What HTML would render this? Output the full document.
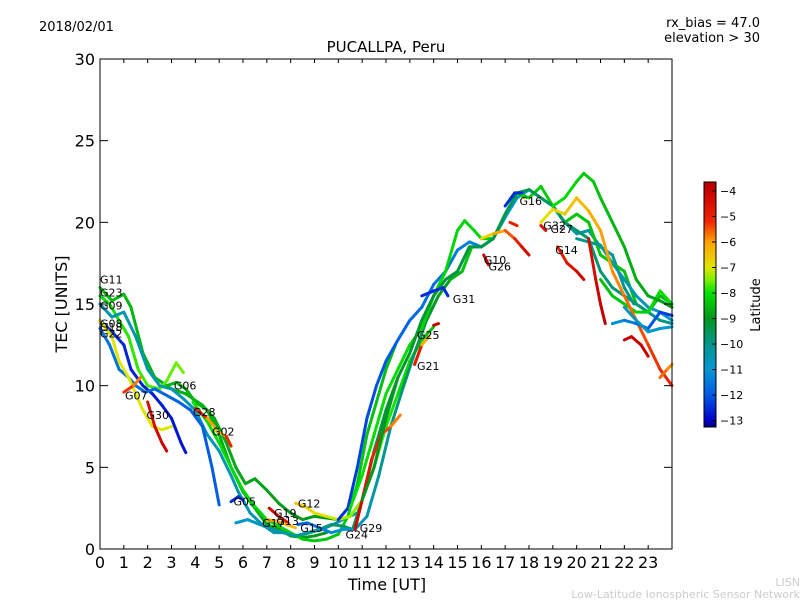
<!DOCTYPE html>
<html><head><meta charset="utf-8"><style>
body{margin:0;background:#fff;}
svg text{font-family:"DejaVu Sans","Liberation Sans",sans-serif;}
</style></head><body>
<svg id="c" width="800" height="600" xmlns="http://www.w3.org/2000/svg">
<rect width="800" height="600" fill="#fff"/>
<text x="39" y="31" font-size="13">2018/02/01</text>
<text x="760" y="27" font-size="13" text-anchor="end">rx_bias = 47.0</text>
<text x="760" y="42" font-size="13" text-anchor="end">elevation &gt; 30</text>
<text x="386" y="52" font-size="15" text-anchor="middle">PUCALLPA, Peru</text>
<g id="tracks"></g>
<g id="labels"></g>
<rect x="100" y="59" width="572" height="490" fill="none" stroke="#000" stroke-width="1"/>
<g id="axes"></g>
<text x="387" y="590" font-size="16" text-anchor="middle">Time [UT]</text>
<text transform="translate(67,304) rotate(-90)" font-size="16" text-anchor="middle">TEC [UNITS]</text>
<defs><linearGradient id="jet" x1="0" y1="1" x2="0" y2="0"></linearGradient></defs>
<rect x="704" y="182" width="12" height="245" fill="url(#jet)" stroke="#000" stroke-width="1"/>
<g id="cbar"></g>
<text transform="translate(760,305) rotate(-90)" font-size="13" text-anchor="middle">Latitude</text>
<text x="800" y="586" font-size="11" fill="#ccc" text-anchor="end">LISN</text>
<text x="800" y="598" font-size="11" fill="#ccc" text-anchor="end">Low-Latitude Ionospheric Sensor Network</text>
</svg>
<script>
const xTicks=[0,1,2,3,4,5,6,7,8,9,10,11,12,13,14,15,16,17,18,19,20,21,22,23];
const yTicks=[0,5,10,15,20,25,30];
const cbTicks=[-4,-5,-6,-7,-8,-9,-10,-11,-12,-13];
const trackNames=["G11","G23","G09","G08","G22","G30a","G07","G30","G06","G06b","G28","G02","G05","G05b","G19","G17","G12","G15","G24","G29","H1","H2","H3","H4","G21","G25","G31","G10","G26","G16","G32","G14","K1","L1","R1","R2","S1","S2","O1","N1"];
const trackTimes=[
[0,0.5,1,1.3,1.8,2.3,3,3.6,4.3,4.8,5.3,5.7,6.1,6.5,7,7.5,8,8.5,9,9.5,10],
[0,0.4,0.8,1.2,1.6,2,2.5,2.8,3.2,3.5],
[0,0.5,1,1.5,2,2.5,3,3.5,4,4.5,5,5.5,5.8,6,6.3,6.8,7.3,7.8,8.3,8.8,9.3,9.8,10.3,10.8],
[0,0.5,1,1.3,1.8,2.2,2.6,3,3.4,3.6],
[0,0.4,0.8,1.2,1.5,1.9,2.3,2.8,3.3,3.8,4.3,4.7,5],
[0,0.5,0.8,1.2,1.5,1.8,2.2,2.6,3],
[1,1.4,1.7],
[2,2.3,2.6,2.8],
[2.8,3.2,3.6,4,4.5,5,5.5,6,6.5,7,7.5,8,8.5,9,9.5],
[3.9,4.5,5,5.5,6,6.5,7,7.5,8,8.5,9,9.5,10,10.4,10.8,11.2,11.6,12,12.4],
[4,4.5,4.8],
[4.8,5.3,5.5],
[5.5,5.8,6],
[5.7,6.2,6.7,7.2,7.7,8.2,8.7,9.2,9.7,10.2,10.6,11,11.5,12,12.5],
[7.1,7.5,7.9],
[7,7.4,7.8,8.2],
[8.2,8.6,9,9.5,10,10.5,11,11.5,12,12.5,13,13.5,14],
[8.3,8.7,9.2,9.7,10.2,10.7,11.2,11.7,12.2,12.7,13.2,13.7,14.2,14.7,15.2,15.6,16,16.5,17,17.5,17.8],
[10,10.4,10.8,11.2,11.6,12,12.5,13,13.5,14,14.5,15,15.5,16,16.5,17,17.5,18,18.5,19,19.5,20,20.5,21,21.5,22,22.4],
[10.7,11,11.4,11.8,12.2,12.6],
[10.5,11,11.5,12,12.5,13,13.5,14,14.5,15,15.3,15.7,16,16.5,17,17.5,18,18.5,19,19.5,20,20.5,21,21.5,22,22.5,23,23.5,24],
[11,11.5,12,12.5,13,13.5,14,14.5,15,15.5,16,16.5,17,17.5,18,18.5,19,19.5,20,20.5,21,21.5,22,22.5,23,23.5,24],
[20,20.5,21,21.5,22,22.5,23,23.5,24],
[21,21.5,22,22.5,23,23.5,24],
[13.2,13.5,13.8],
[14,14.2],
[13.5,14,14.4,14.6],
[16,16.5,17,17.4,17.7,18],
[16.1,16.3],
[17,17.4,17.7],
[18.5,18.7],
[19.2,19.6,20,20.3],
[19,19.5,20,20.3,20.7,21,21.5,22,22.5,23,23.5,24],
[18.5,19,19.5,20,20.5,21,21.5,22,22.5,23,23.5,24],
[21.5,22,22.5,23,23.5,24],
[22,22.5,23,23.5,24],
[22,22.3,22.7,23],
[20.5,20.8,21,21.2],
[23.5,23.8,24],
[17.2,17.5]];
const trackTec=[
[16,15.2,15.6,14.8,12,10.5,9.8,9.5,8.8,8,6.5,5,4,4.3,3.6,2.8,2.2,1.8,2,1.9,1.8],
[15.5,15,14,13,11,10,9.8,10.3,11.4,10.8],
[15,14.2,14.5,13,11,10,9.8,9.2,8.5,7,6,4.5,3.5,3,2.2,1.5,1,1,0.8,1,1.2,1.5,1.9,2.2],
[14,13.3,12.5,11,10,9.5,8.8,8,6.5,5.9],
[13.5,12.5,11,10.5,10,9.6,9.8,9.4,9,8.5,7.5,5,2.7],
[14,13,11.5,10.5,9.5,8.5,7.5,7.3,7.5],
[9.6,10,10.5],
[9,7.5,6.5,6],
[10,10.2,9.8,9,8.5,7,5,3.5,2.5,1.5,1.2,0.8,0.7,0.8,1],
[9,7.8,6.5,5,3.6,2.6,1.8,1.4,1,0.6,0.5,0.6,0.9,2,4,7,9,11,12.5],
[8.6,8,7.5],
[7.3,6.9,6.3],
[2.9,3.2,3.0],
[1.6,1.8,1.5,1.2,1,0.8,1,1.2,1.5,1.4,1.2,3,6,8.5,10.5],
[2.5,2,1.6],
[1.8,1.7,1.5,1.3],
[2.8,2.6,2.2,2,1.8,2,3,5,7.5,9.5,11.5,12.8,13.6],
[1.5,1.6,1.3,1,1.2,1.2,2,4.5,7.5,9.8,12,14,15.5,16.5,17,18.5,18.5,19,20.5,21.8,21.5],
[1.8,2.5,5,8,10,11.5,12.8,14,14.8,16.2,17,18.3,18.8,18.5,19,20.3,21.5,22,21.5,21,20,19.3,19.5,18.5,18,16,15],
[1.2,3,5.5,7,7.5,8.2],
[2.5,4.5,7,9.5,11,12.5,13.5,15.5,17,19.5,20.1,19.5,19,19,20.5,21.8,21.5,22.2,21,20,20.5,20,18,17.5,17,15,14.5,15.5,15],
[3,5,8,10.5,12,14,15.5,16.5,17,18.5,18.5,19,20.5,21.8,22,21.5,21,20,19.5,19,17,16,15.5,15,14.5,14,13.8],
[19,18.8,18.6,17.5,16.5,15.5,14.8,14.5,14],
[16.5,15.5,15,14.5,14.5,15.8,15],
[11.3,12.5,13],
[13.7,13.8],
[15.5,15.8,16,15.5],
[19,19.3,19.5,19,18.5,18],
[18,17.4],
[21,21.8,21.8],
[19.8,19.5],
[18.5,17.5,17,16.5],
[21,21.5,22.5,23,22.5,21.5,20,18.5,16.5,15.5,15.2,14.8],
[20,20.8,20.5,21.5,20.7,19.5,17,15.5,14,12.5,11,10],
[13.8,14,13.8,13.5,14.5,14.3],
[14.8,14,13.3,13.5,13.6],
[12.8,13,12.5,11.8],
[19,16.5,15,13.8],
[10.5,11,11.3],
[20,19.8]];
const trackLat=[
[-8.5,-9],[-8,-7.5],[-10.5,-10.5],[-12.5,-12.8],[-11.5,-12],[-7,-7],[-5,-6],[-4.5,-4],[-8.5,-9],[-8,-8.5],[-4.5,-6.5],[-7,-4.5],[-12.5,-12.5],[-11,-9],[-4,-5],[-6,-6.5],[-6.5,-8.5],[-12,-7],[-12.5,-10],[-4,-6],[-8,-8.5],[-9,-10],[-10,-11],[-8.5,-8],[-4,-7],[-4,-4],[-12.5,-12.5],[-7,-4],[-4,-4],[-12.5,-12.5],[-4.5,-4.5],[-5,-4],[-8,-9],[-7,-5],[-11,-12.5],[-10.5,-11],[-4,-4],[-4.5,-3.8],[-5.5,-6],[-5,-5]];
const labelNames=["G11","G23","G09","G08","G18","G22","G07","G30","G06","G28","G02","G05","G19","G17","G13","G12","G15","G24","G29","G21","G25","G31","G10","G26","G16","G32","G27","G14"];
const labelT=[0,0,0,0,0,0,1.05,1.95,3.1,3.9,4.7,5.6,7.3,6.8,7.4,8.3,8.4,10.3,10.9,13.3,13.3,14.8,16.1,16.3,17.6,18.6,18.9,19.1];
const labelV=[16.5,15.7,14.9,13.8,13.6,13.2,9.4,8.2,10,8.4,7.2,2.9,2.2,1.6,1.7,2.8,1.3,0.9,1.3,11.2,13.1,15.3,17.7,17.3,21.3,19.8,19.6,18.3];

const X0=100,X1=672,Y0=549,Y1=59;
const xs=t=>X0+t*(X1-X0)/24;
const ys=v=>Y0-v*(Y0-Y1)/30;
const cTop=-3.65,cBot=-13.25;
const cy=l=>182+(cTop-l)/(cTop-cBot)*245;
const cmapLat=[-13.25,-13,-12,-11,-10,-9,-8,-7.5,-7,-6,-5.2,-4,-3.65];
const cmapRGB=[[0,0,130],[0,0,200],[0,90,230],[0,150,210],[0,150,140],[0,150,30],[0,225,0],[120,240,0],[225,230,0],[255,160,0],[240,40,0],[200,0,0],[180,0,0]];
function jet(l){l=Math.max(cBot,Math.min(cTop,l));
 for(let i=0;i<cmapLat.length-1;i++){if(l<=cmapLat[i+1]){const f=(l-cmapLat[i])/(cmapLat[i+1]-cmapLat[i]);const a=cmapRGB[i],b=cmapRGB[i+1];
 return `rgb(${Math.round(a[0]+(b[0]-a[0])*f)},${Math.round(a[1]+(b[1]-a[1])*f)},${Math.round(a[2]+(b[2]-a[2])*f)})`;}}
 return 'rgb(180,0,0)';}
const NS="http://www.w3.org/2000/svg";
function mk(tag,attrs,parent){const e=document.createElementNS(NS,tag);for(const k in attrs)e.setAttribute(k,attrs[k]);parent.appendChild(e);return e;}
const grad=document.getElementById('jet');
cmapLat.forEach(l=>{mk('stop',{offset:(l-cBot)/(cTop-cBot),'stop-color':jet(l)},grad);});
const tg=document.getElementById('tracks');
trackTimes.forEach((ts,i)=>{
 const g=mk('g',{},tg);
 
 
 const vs=trackTec[i],la=trackLat[i],n=ts.length;
 for(let j=0;j<n-1;j++){
  const l=la[0]+(la[1]-la[0])*(j+0.5)/(n-1);
  const s=mk('line',{x1:xs(ts[j]),y1:ys(vs[j]),x2:xs(ts[j+1]),y2:ys(vs[j+1]),stroke:jet(l),'stroke-width':3,'stroke-linecap':'round'},g);
  
  
 }
});
const lg=document.getElementById('labels');
labelNames.forEach((n,i)=>{const t=mk('text',{x:xs(labelT[i]),y:ys(labelV[i])+4,'font-size':11},lg);t.textContent=n;
 
 });
const ax=document.getElementById('axes');
xTicks.forEach(t=>{const x=xs(t);
 const a=mk('line',{x1:x,y1:Y0,x2:x,y2:Y0-4,stroke:'#000'},ax);
 const b=mk('line',{x1:x,y1:Y1,x2:x,y2:Y1+4,stroke:'#000'},ax);
 const tx=mk('text',{x:x,y:568,'font-size':16,'text-anchor':'middle'},ax);tx.textContent=t;
 });
yTicks.forEach(v=>{const y=ys(v);
 const a=mk('line',{x1:X0,y1:y,x2:X0+8,y2:y,stroke:'#000'},ax);
 const b=mk('line',{x1:X1,y1:y,x2:X1-8,y2:y,stroke:'#000'},ax);
 const tx=mk('text',{x:95,y:y+6,'font-size':16,'text-anchor':'end'},ax);tx.textContent=v;
 });
const cb=document.getElementById('cbar');
cbTicks.forEach(l=>{const y=cy(l);
 const a=mk('line',{x1:712,y1:y,x2:716,y2:y,stroke:'#000'},cb);
 const tx=mk('text',{x:720,y:y+4,'font-size':11},cb);tx.textContent='\u2212'+Math.abs(l);
 });
</script>
</body></html>
